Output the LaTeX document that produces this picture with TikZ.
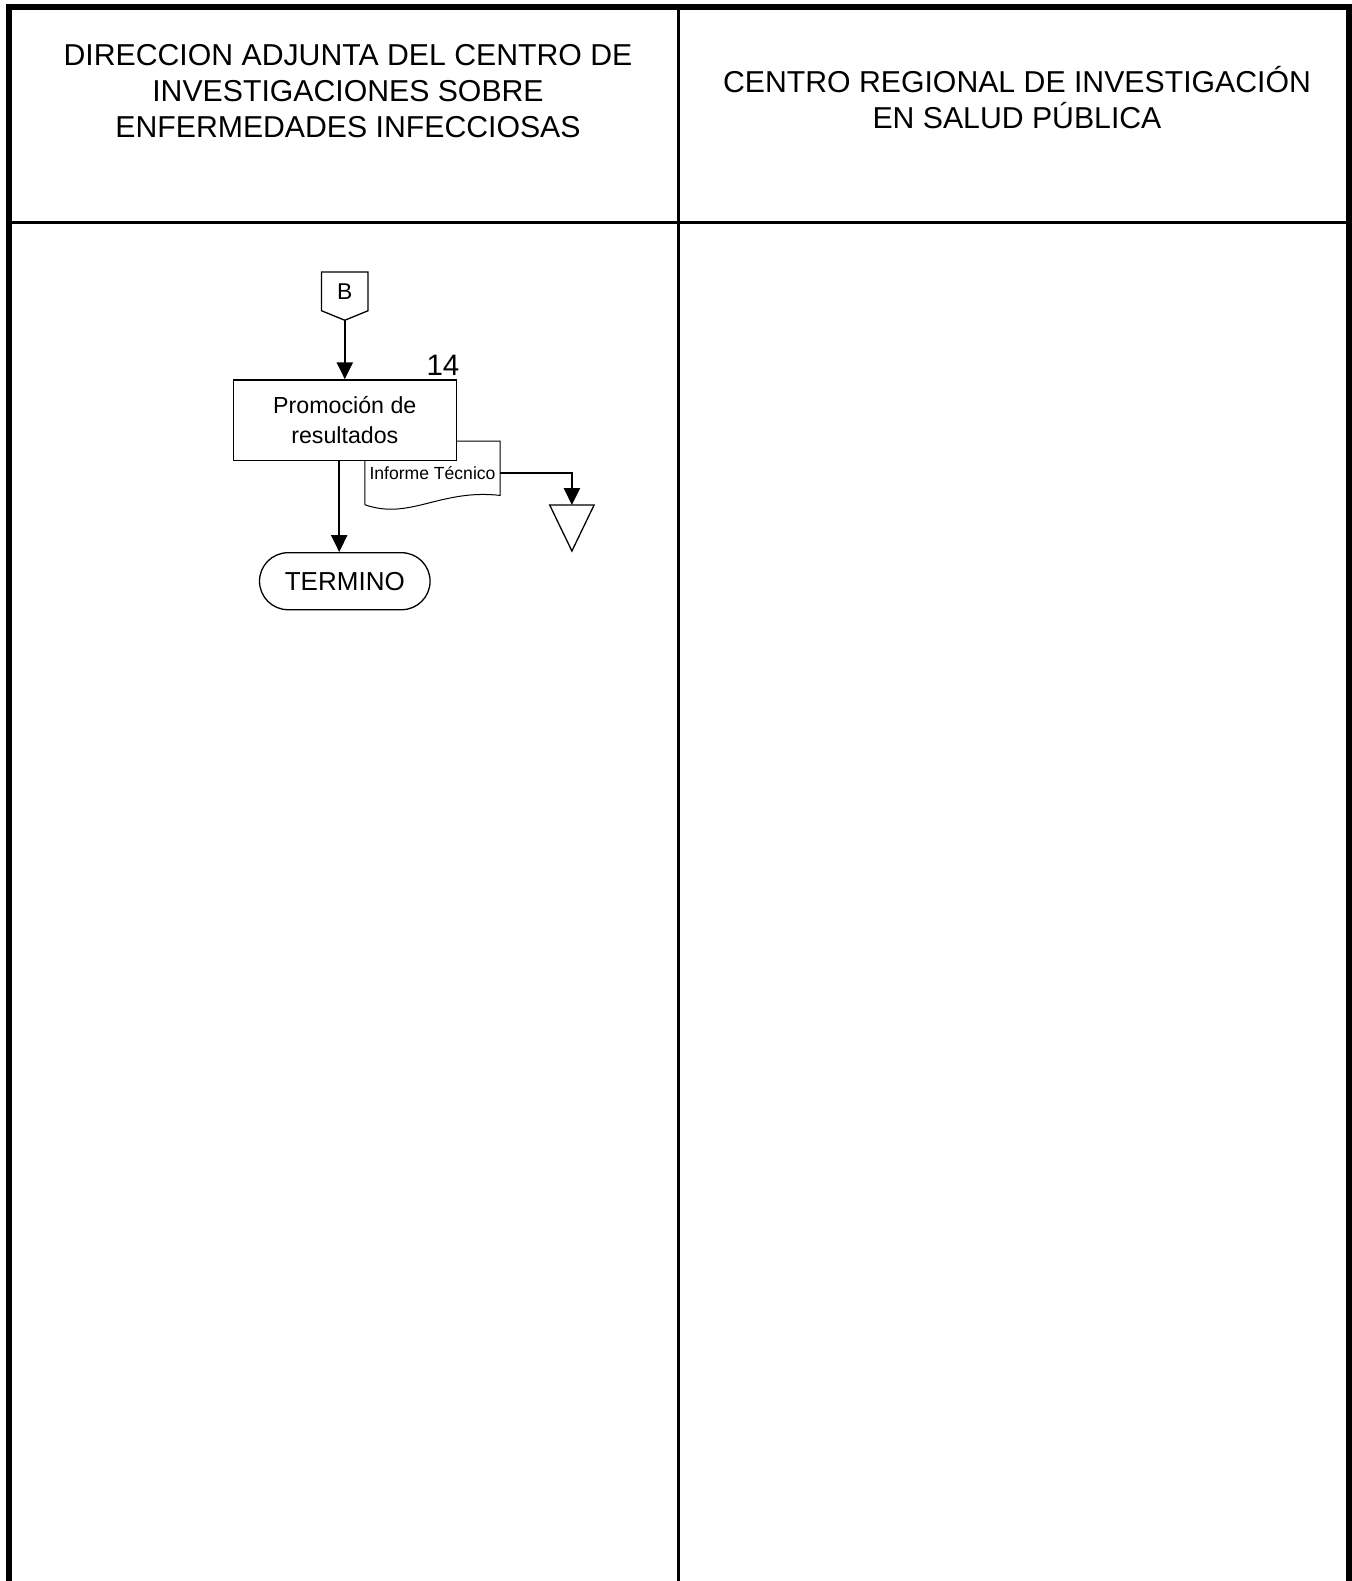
\documentclass[tikz,border=0pt]{standalone}
\usepackage{fontspec}
\setmainfont{Liberation Sans}
\usetikzlibrary{positioning,calc,shapes.misc,arrows.meta,backgrounds}

\begin{document}
\begin{tikzpicture}[
node distance=0.7cm,
font=\fontsize{6.6}{8.6}\selectfont,
outerline/.style={line width=0.06cm},
lane/.style={line width=0.033cm},
head/.style={align=center, font=\fontsize{8.6}{10.2}\selectfont},
box/.style={rectangle, draw, line width=0.013cm, fill=white, minimum width=2.232cm, minimum height=0.808cm, align=center},
terminal/.style={rounded rectangle, draw, line width=0.013cm, fill=white, minimum width=1.94cm, minimum height=0.57cm, font=\fontsize{7.4}{8.8}\selectfont},
offpage/.style={minimum width=0.45cm, minimum height=0.373cm, inner sep=0pt, font=\fontsize{6.5}{8}\selectfont},
docnode/.style={minimum width=1.34cm, minimum height=0.622cm, inner sep=0pt, font=\fontsize{5}{6}\selectfont},
thinline/.style={line width=0.013cm},
arrow/.style={-{Triangle[width=0.16cm, length=0.17cm]}, line width=0.025cm}
]
\useasboundingbox (0,0) rectangle (13.52,-15.81);

% --- LANES ---
\draw[outerline] (0.087,-15.81) -- (0.087,-0.065) -- (13.487,-0.065) -- (13.487,-15.81);
\draw[lane] (6.785,-0.065) -- (6.785,-15.81);
\draw[lane] (0.087,-2.225) -- (13.487,-2.225);

\node[head] (headA) at (3.48,-0.912) {DIRECCION ADJUNTA DEL CENTRO DE\\INVESTIGACIONES SOBRE\\ENFERMEDADES INFECCIOSAS};
\node[head] (headB) at (10.17,-0.973) {CENTRO REGIONAL DE INVESTIGACIÓN\\EN SALUD PÚBLICA};

% --- STEPS ---
\node[offpage] (conB) at (3.448,-2.914) {B};
\draw[thinline] (conB.north west) -- (conB.north east) -- (conB.south east) -- ($(conB.south)+(0,-0.095)$) coordinate (conBtip) -- (conB.south west) -- cycle;

\node[box, below=0.685cm of conB, label={[anchor=south east, inner sep=0pt, xshift=0.03cm, yshift=0.03cm, font=\fontsize{8.4}{10}\selectfont]north east:14}] (proc) {Promoción de\\resultados};
\node[terminal, below=0.907cm of proc] (term) {TERMINO};

\node[docnode] (doc) at (4.325,-4.729) {Informe Técnico};
\begin{scope}[on background layer]
\draw[line width=0.01cm] (doc.south west) -- (doc.north west) -- (doc.north east) -- ($(doc.south east)+(0,0.093)$)
.. controls ($(doc.south)+(0.075,0.161)$) and ($(doc.south)+(-0.225,-0.159)$) .. (doc.south west);
\end{scope}

\coordinate (arch) at (5.719,-5.05);
\draw[thinline] ($(arch)+(-0.222,0)$) -- ($(arch)+(0.222,0)$) -- ($(arch)+(0,-0.46)$) -- cycle;

% --- FLOWS ---
\draw[arrow] (conBtip) -- (conBtip |- proc.north);
\draw[arrow] ([xshift=-0.056cm]proc.south) -- ([xshift=-0.056cm]proc.south |- term.north);
\draw[arrow] (doc.east) -| (arch);

\end{tikzpicture}
\end{document}
